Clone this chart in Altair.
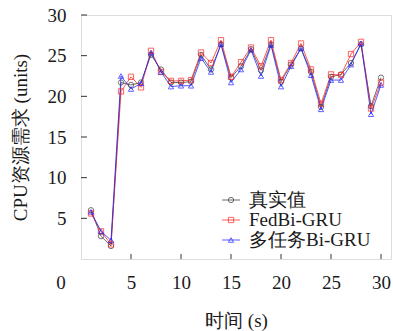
import altair as alt
import pandas as pd

# Time steps (s)
t = list(range(1, 31))

# CPU demand per time step
actual = [6.0, 2.8, 1.6, 21.7, 21.4, 21.7, 25.1, 23.3, 21.7, 21.7,
          21.8, 25.1, 23.3, 26.4, 22.3, 23.7, 25.8, 23.2, 26.4, 21.8,
          23.9, 25.9, 23.0, 18.7, 22.4, 22.7, 24.1, 26.4, 18.8, 22.3]
fed_bigru = [5.6, 3.4, 1.8, 20.6, 22.4, 21.1, 25.6, 23.0, 21.9, 21.9,
             22.0, 25.4, 24.1, 26.9, 22.4, 24.2, 26.0, 23.7, 26.9, 22.0,
             24.1, 26.5, 23.3, 19.1, 22.7, 22.6, 25.2, 26.7, 18.5, 21.7]
mt_bigru = [5.8, 3.4, 2.3, 22.5, 20.9, 21.6, 25.4, 23.0, 21.2, 21.3,
            21.3, 24.7, 23.0, 26.4, 21.7, 23.3, 25.7, 22.5, 26.3, 21.2,
            23.7, 25.9, 22.6, 18.4, 22.0, 22.0, 23.9, 26.5, 17.8, 21.4]

series_names = ["真实值", "FedBi-GRU", "多任务Bi-GRU"]
series_colors = ["#3a3a3a", "#ff2020", "#2020ff"]
series_shapes = ["circle", "square", "triangle-up"]

x_ticks = [5, 10, 15, 20, 25, 30]
y_ticks = [5, 10, 15, 20, 25, 30]

FONT = "Liberation Serif"
FS = 19
W, H = 310, 244

rows = []
for name, vals in zip(series_names, [actual, fed_bigru, mt_bigru]):
    for xi, v in zip(t, vals):
        rows.append({"t": xi, "v": v, "s": name})
df = pd.DataFrame(rows)

xs = alt.Scale(domain=[0, 31], nice=False)
ys = alt.Scale(domain=[0, 30], nice=False)
cs = alt.Scale(domain=series_names, range=series_colors)
ss = alt.Scale(domain=series_names, range=series_shapes)

base = alt.Chart(df).encode(
    x=alt.X("t:Q", scale=xs, axis=alt.Axis(
        values=x_ticks, domain=False, ticks=False, grid=False,
        labelFont=FONT, labelFontSize=FS, labelColor="#1a1a1a", labelPadding=14,
        title="时间 (s)", titleFont=FONT, titleFontSize=FS, titleFontWeight="normal",
        titleColor="#1a1a1a", titleX=W / 2, titleY=61, titleBaseline="middle")),
    y=alt.Y("v:Q", scale=ys, axis=alt.Axis(
        values=y_ticks, domain=False, ticks=False, grid=False,
        labelFont=FONT, labelFontSize=FS, labelColor="#1a1a1a", labelPadding=15,
        title="CPU资源需求 (units)", titleFont=FONT, titleFontSize=FS,
        titleFontWeight="normal", titleColor="#1a1a1a", titleX=-61, titleY=H / 2,
        titleAngle=270, titleAlign="center", titleBaseline="middle")),
    detail="s:N",
)

lines = base.mark_line(strokeWidth=1, opacity=0.75).encode(
    color=alt.Color("s:N", scale=cs, legend=None),
)
points = base.mark_point(filled=False, size=28, strokeWidth=1).encode(
    color=alt.Color("s:N", scale=cs, legend=None),
    shape=alt.Shape("s:N", scale=ss, legend=None),
)

# Inward tick marks on the left and bottom axes
ytick_df = pd.DataFrame({"v": y_ticks})
xtick_df = pd.DataFrame({"t": x_ticks})
yticks = alt.Chart(ytick_df).mark_rule(color="#333", strokeWidth=1).encode(
    y=alt.Y("v:Q", scale=ys), x=alt.value(0), x2=alt.value(6))
xticks = alt.Chart(xtick_df).mark_rule(color="#333", strokeWidth=1).encode(
    x=alt.X("t:Q", scale=xs), y=alt.value(H), y2=alt.value(H - 5))

# Shared origin label
zero = alt.Chart(pd.DataFrame({"t": [0], "v": [0]})).mark_text(
    text="0", font=FONT, fontSize=FS, color="#1a1a1a", dx=-20, dy=24,
    align="center", baseline="middle").encode(
    x=alt.X("t:Q", scale=xs), y=alt.Y("v:Q", scale=ys))

# Legend box in the lower right of the plot area
legend_layers = []
for i, (name, col, shp) in enumerate(zip(series_names, series_colors, series_shapes)):
    ly = 185 + 20 * i
    ldf = pd.DataFrame({"s": [name]})
    legend_layers.append(alt.Chart(ldf).mark_rule(color=col, strokeWidth=1, opacity=0.75).encode(
        x=alt.value(141), x2=alt.value(159), y=alt.value(ly)))
    legend_layers.append(alt.Chart(ldf).mark_point(
        filled=False, size=28, strokeWidth=1, color=col, shape=shp).encode(
        x=alt.value(150), y=alt.value(ly)))
    legend_layers.append(alt.Chart(ldf).mark_text(
        font=FONT, fontSize=FS, color="#1a1a1a", align="left", baseline="middle").encode(
        text="s:N", x=alt.value(168), y=alt.value(ly)))

chart = alt.layer(lines, points, yticks, xticks, zero, *legend_layers).properties(
    width=W, height=H,
    autosize=alt.AutoSizeParams(type="none"),
    padding={"left": 81, "top": 15, "right": 2, "bottom": 72},
).configure_view(stroke="#404040", strokeWidth=1.6).configure(background="white")

chart.save("out.html", embed_options={"renderer": "svg", "actions": False})
